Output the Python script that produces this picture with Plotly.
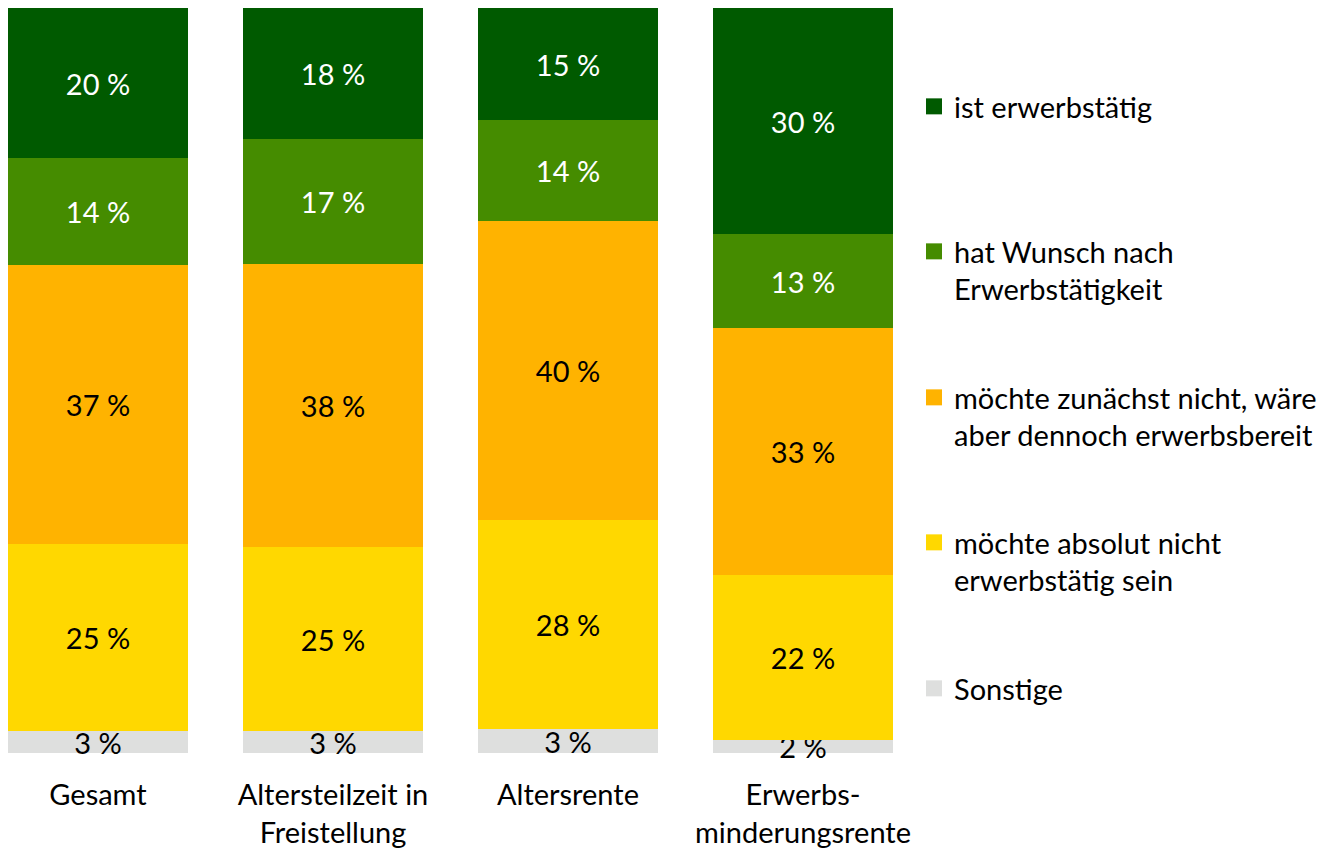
import plotly.graph_objects as go

categories = ["Gesamt", "Altersteilzeit in<br>Freistellung", "Altersrente", "Erwerbs-<br>minderungsrente"]
series_names = [
    "ist erwerbstätig",
    "hat Wunsch nach<br>Erwerbstätigkeit",
    "möchte zunächst nicht, wäre<br>aber dennoch erwerbsbereit",
    "möchte absolut nicht<br>erwerbstätig sein",
    "Sonstige",
]
# values per series (top to bottom in the stack), for each category
ist_erwerbstaetig = [20.1, 17.6, 15.0, 30.3]
wunsch = [14.4, 16.8, 13.6, 12.6]
zunaechst_nicht = [37.4, 37.9, 40.1, 33.2]
absolut_nicht = [25.2, 24.7, 28.1, 22.2]
sonstige = [2.9, 3.0, 3.2, 1.7]

colors = ["#005A00", "#458C00", "#FFB300", "#FFD800", "#DEDFDE"]
text_colors = ["white", "white", "black", "black", "black"]

FONT = "Lato"
FS = 29

fig = go.Figure()

stack = [
    (sonstige, 4),
    (absolut_nicht, 3),
    (zunaechst_nicht, 2),
    (wunsch, 1),
    (ist_erwerbstaetig, 0),
]
for vals, i in stack:
    fig.add_trace(go.Bar(
        x=list(range(len(categories))), y=vals,
        marker=dict(color=colors[i], line=dict(width=0)),
        width=180 / 235,
        texttemplate="%{y:.0f} %",
        textposition="inside",
        insidetextanchor="middle",
        constraintext="none",
        textangle=0,
        cliponaxis=False,
        insidetextfont=dict(family=FONT, size=FS, color=text_colors[i]),
        showlegend=False,
        hoverinfo="skip",
    ))

# page body has an 8px margin; figure coords = screen coords - 8
OFF = 8
W, H = 1332, 842
MT, MB = 0, 97
PH = H - MT - MB
legend_centres = [107, 252, 398, 543, 689]  # first-line centre, screen pixels
layout_legends = {}
for i in range(5):
    key = "legend" if i == 0 else f"legend{i+1}"
    fig.add_trace(go.Scatter(
        x=[None], y=[None], mode="markers",
        marker=dict(symbol="square", size=18, color=colors[i]),
        name=series_names[i],
        legend=key,
        showlegend=True,
    ))
    py = legend_centres[i] - OFF - 26
    layout_legends[key] = dict(
        x=(914 - OFF) / W, xanchor="left",
        y=(H - MB - py) / PH, yanchor="top",
        valign="top",
        font=dict(family=FONT, size=FS, color="black"),
        bgcolor="rgba(0,0,0,0)",
        borderwidth=0,
        itemsizing="trace",
        itemwidth=30,
    )

scale = 235.0
r0 = -(98 - OFF) / scale
r1 = r0 + W / scale

fig.update_layout(
    width=W, height=H,
    margin=dict(l=0, r=0, t=MT, b=MB),
    barmode="stack",
    bargap=0,
    plot_bgcolor="white",
    paper_bgcolor="white",
    font=dict(family=FONT, size=FS, color="black"),
    xaxis=dict(
        range=[r0, r1],
        tickmode="array",
        tickvals=list(range(len(categories))),
        ticktext=categories,
        showgrid=False, zeroline=False, showline=False, ticks="",
        tickfont=dict(family=FONT, size=FS, color="black"),
        ticklabelstandoff=22,
        fixedrange=True,
    ),
    yaxis=dict(
        range=[0, 100], visible=False, showgrid=False, zeroline=False,
        fixedrange=True,
    ),
    **layout_legends,
)

fig.write_html("out.html")
